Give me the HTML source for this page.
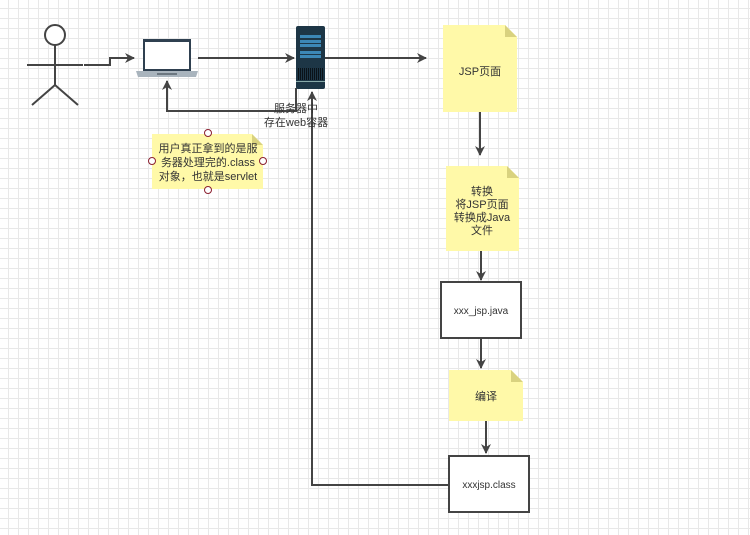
<!DOCTYPE html>
<html><head><meta charset="utf-8"><style>
body{margin:0;width:750px;height:530px;overflow:hidden;background:#fff;
background-image:linear-gradient(#e8e8e8 1px,transparent 1px),linear-gradient(90deg,#e8e8e8 1px,transparent 1px);background-size:10px 10px;background-position:-2px -2px;}
text{font-family:"Liberation Sans","Noto Sans CJK SC",sans-serif;font-size:11px;fill:#333;}
</style></head><body>
<svg width="750" height="530" xmlns="http://www.w3.org/2000/svg">
<defs><marker id="a" markerWidth="10" markerHeight="10" refX="9" refY="5" orient="auto" markerUnits="userSpaceOnUse"><path d="M0,0 L10,5 L0,10 L3,5 z" fill="#444"/></marker></defs>
<g stroke="#444" stroke-width="2" fill="none">
<circle cx="55" cy="35" r="10" fill="#fff"/>
<path d="M55,45 V85 M27,65 H83 M55,85 L32,105 M55,85 L78,105"/>
</g>
<g stroke="#444" stroke-width="2" fill="none">
<path d="M84,65 H110 V58 H134" marker-end="url(#a)"/>
<path d="M198,58 H294" marker-end="url(#a)"/>
<path d="M325,58 H426" marker-end="url(#a)"/>
<path d="M296,88 V111 H167 V81" marker-end="url(#a)"/>
<path d="M448,485 H312 V92" marker-end="url(#a)"/>
<path d="M480,112 V155" marker-end="url(#a)"/>
<path d="M481,251 V280" marker-end="url(#a)"/>
<path d="M481,339 V368" marker-end="url(#a)"/>
<path d="M486,421 V453" marker-end="url(#a)"/>
</g>
<!-- laptop -->
<rect x="143" y="39" width="48" height="32" fill="#2f4050"/>
<rect x="145" y="42" width="44" height="27" fill="#fff"/>
<path d="M136,71 H198 L196,77 H138 z" fill="#a9b4bd"/>
<rect x="157" y="73" width="20" height="2" fill="#6c7780"/>
<!-- server -->
<rect x="296" y="26" width="29" height="63" rx="2" fill="#1d3646"/>
<g fill="#3c87b5"><rect x="300" y="35" width="21" height="3"/><rect x="300" y="40" width="21" height="3"/><rect x="300" y="44" width="21" height="3"/><rect x="300" y="51" width="21" height="3"/><rect x="300" y="55" width="21" height="3"/></g>
<g stroke="#0a1218" stroke-width="1"><path d="M298.5,68V80M300.5,68V80M302.5,68V80M304.5,68V80M306.5,68V80M308.5,68V80M310.5,68V80M312.5,68V80M314.5,68V80M316.5,68V80M318.5,68V80M320.5,68V80M322.5,68V80"/></g>
<rect x="296" y="81" width="29" height="1" fill="#8aa"/>
<text x="296" y="112" text-anchor="middle">服务器中</text>
<text x="296" y="126" text-anchor="middle">存在web容器</text>
<!-- notes -->
<path d="M152,134 H252 L263,145 V189 H152 z" fill="#fff9a8"/><path d="M252,134 V145 H263 z" fill="#d9d27f"/>
<text x="208" y="152" text-anchor="middle">用户真正拿到的是服</text>
<text x="208" y="166" text-anchor="middle">务器处理完的.class</text>
<text x="208" y="180" text-anchor="middle">对象，也就是servlet</text>
<g fill="#fff" stroke="#8b2030" stroke-width="1"><circle cx="208" cy="133" r="3.5"/><circle cx="152" cy="161" r="3.5"/><circle cx="263" cy="161" r="3.5"/><circle cx="208" cy="190" r="3.5"/></g>
<path d="M443,25 H505 L517,37 V112 H443 z" fill="#fff9a8"/><path d="M505,25 V37 H517 z" fill="#d9d27f"/>
<text x="480" y="75" text-anchor="middle">JSP页面</text>
<path d="M446,166 H507 L519,178 V251 H446 z" fill="#fff9a8"/><path d="M507,166 V178 H519 z" fill="#d9d27f"/>
<text x="482" y="195" text-anchor="middle">转换</text>
<text x="482" y="208" text-anchor="middle">将JSP页面</text>
<text x="482" y="221" text-anchor="middle">转换成Java</text>
<text x="482" y="234" text-anchor="middle">文件</text>
<rect x="441" y="282" width="80" height="56" fill="#fff" stroke="#444" stroke-width="2"/>
<text x="481" y="314" text-anchor="middle" style="font-size:10px">xxx_jsp.java</text>
<path d="M449,370 H511 L523,382 V421 H449 z" fill="#fff9a8"/><path d="M511,370 V382 H523 z" fill="#d9d27f"/>
<text x="486" y="400" text-anchor="middle">编译</text>
<rect x="449" y="456" width="80" height="56" fill="#fff" stroke="#444" stroke-width="2"/>
<text x="489" y="488" text-anchor="middle" style="font-size:10px">xxxjsp.class</text>
</svg>
</body></html>
